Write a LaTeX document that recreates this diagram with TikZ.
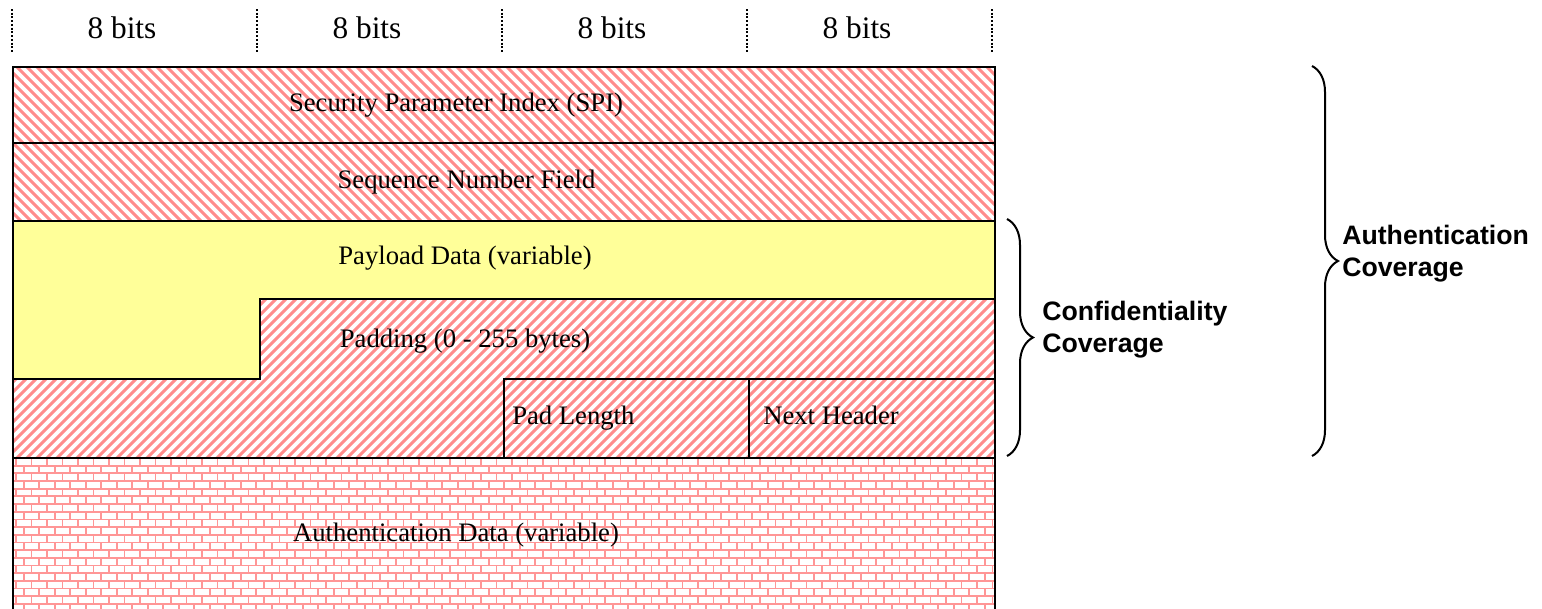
\documentclass[tikz,border=0pt]{standalone}
\usepackage{fontspec}
\setmainfont{Liberation Serif}
\newfontfamily\coversans{Liberation Sans}
\usetikzlibrary{decorations.pathreplacing}
\definecolor{hatchpink}{RGB}{255,140,140}
\definecolor{brickpink}{RGB}{255,150,150}
\definecolor{payloadyellow}{RGB}{255,255,153}
\tikzset{
  field/.style={draw=black, line width=1.5pt, line join=miter},
  fieldtext/.style={font=\fontsize{20}{24}\selectfont, inner sep=0pt, anchor=base},
  leftfieldtext/.style={font=\fontsize{20}{24}\selectfont, inner sep=0pt, anchor=base west},
  bitstext/.style={font=\fontsize{23.5}{28}\selectfont, inner sep=0pt, anchor=base},
  covertext/.style={font=\coversans\bfseries\fontsize{20}{23}\selectfont, inner sep=0pt, anchor=base west},
  wordsep/.style={line width=1.6pt, dash pattern=on 1.5pt off 1.3pt},
  hatchline/.style={draw=hatchpink, line width=2.2pt},
  brickline/.style={draw=brickpink, line width=1.3pt},
  cover/.style={line width=1.5pt, decorate, decoration={brace, amplitude=19.5pt, aspect=0.5}},
}
\begin{document}
\begin{tikzpicture}[x=0.75pt, y=-0.75pt]
\clip (0,0) rectangle (1542,608);

% 32-bit word ruler
\foreach \x in {12,257,502,747,992}
  \draw[wordsep] (\x,9) -- (\x,53);
\foreach \k in {0,...,3}
  \node[bitstext] (bits\k) at ({122+245*\k},38) {8 bits};

% header rows: SPI and sequence number (back-slash hatching)
\begin{scope}
  \clip (13,66.5) rectangle (995,221);
  \foreach \k in {0,...,120}
    \draw[hatchline] ({-170+10*\k},60) -- ++(170,170);
\end{scope}

% payload data
\fill[payloadyellow] (13,221) -- (995,221) -- (995,299) -- (260,299)
  -- (260,379) -- (13,379) -- cycle;

% padding, pad length, next header (slash hatching)
\begin{scope}
  \clip (260,299) -- (995,299) -- (995,458) -- (13,458) -- (13,379)
    -- (260,379) -- cycle;
  \foreach \k in {0,...,120}
    \draw[hatchline] ({-180+10*\k},465) -- ++(175,-175);
\end{scope}

% authentication data (brick pattern)
\begin{scope}
  \clip (13,458) rectangle (995,612);
  \foreach \r in {0,...,20} {
    \draw[brickline] (13,{458+7.67*\r}) -- (995,{458+7.67*\r});
    \pgfmathsetmacro\brickoff{mod(\r,2)*7.75}
    \path[brickline] \foreach \c in {0,...,64} {
      ({16+\brickoff+15.5*\c},{458+7.67*\r}) -- ++(0,7.67)
    };
  }
\end{scope}

% field outlines
\draw[field] (13,66.5) rectangle (995,143);
\draw[field] (13,143) rectangle (995,221);
\draw[field] (13,221) -- (995,221) -- (995,299) -- (260,299)
  -- (260,379) -- (13,379) -- cycle;
\draw[field] (260,299) -- (995,299) -- (995,458) -- (13,458) -- (13,379)
  -- (260,379) -- cycle;
\draw[field] (504,379) rectangle (749,458);
\draw[field] (749,379) rectangle (995,458);
\draw[field] (13,458) rectangle (995,612);

% field labels
\node[fieldtext] (spi) at (456,111) {Security Parameter Index (SPI)};
\node[fieldtext] (seq) at (466.5,188) {Sequence Number Field};
\node[fieldtext] (payload) at (465,264) {Payload Data (variable)};
\node[fieldtext] (padding) at (465,347) {Padding (0 - 255 bytes)};
\node[leftfieldtext] (padlen) at (512,424) {Pad Length};
\node[leftfieldtext] (nexthdr) at (763,424) {Next Header};
\node[fieldtext] (authdata) at (456,541) {Authentication Data (variable)};

% coverage braces
\coordinate (confTop) at (1007,219);
\coordinate (confBot) at (1007,456);
\draw[cover] (confTop) -- (confBot);
\node[covertext] (conf1) at (1042,320) {Confidentiality};
\node[covertext] (conf2) at (1042,352) {Coverage};

\coordinate (authTop) at (1312,66);
\coordinate (authBot) at (1312,456);
\draw[cover] (authTop) -- (authBot);
\node[covertext] (auth1) at (1342,244) {Authentication};
\node[covertext] (auth2) at (1342,276) {Coverage};
\end{tikzpicture}
\end{document}
